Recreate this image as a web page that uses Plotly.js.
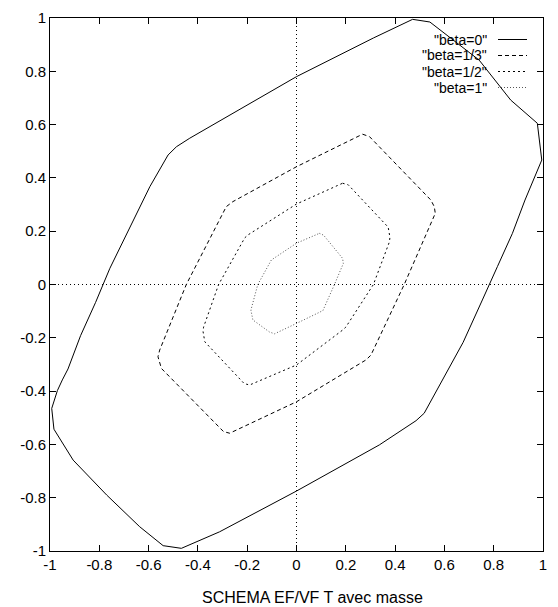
<!DOCTYPE html>
<html>
<head>
<meta charset="utf-8">
<script src="https://cdn.plot.ly/plotly-3.0.1.min.js"></script>
<style>html,body{margin:0;padding:0;background:#fff;}</style>
</head>
<body>
<div id="chart" style="width:558px;height:607px;"></div>
<script>
// ---- data ----
var seriesNames = ['"beta=0"', '"beta=1/3"', '"beta=1/2"', '"beta=1"'];

var beta0X = [0.471, 0.541, 0.741, 0.869, 0.977, 0.984, 0.995, 0.927, 0.876, 0.815, 0.781, 0.754, 0.676, 0.592, 0.518, 0.485, 0.336, 0.0, -0.312, -0.467, -0.541, -0.636, -0.770, -0.906, -0.984, -0.993, -0.970, -0.950, -0.927, -0.876, -0.815, -0.757, -0.676, -0.595, -0.521, -0.487, -0.433, 0.0, 0.312, 0.471];
var beta0Y = [0.995, 0.985, 0.842, 0.692, 0.605, 0.543, 0.467, 0.317, 0.192, 0.067, 0.0, -0.058, -0.217, -0.358, -0.483, -0.511, -0.602, -0.775, -0.928, -0.990, -0.980, -0.909, -0.790, -0.659, -0.543, -0.465, -0.398, -0.358, -0.317, -0.192, -0.067, 0.061, 0.217, 0.367, 0.486, 0.517, 0.549, 0.780, 0.925, 0.995];

var beta13X = [0.268, 0.296, 0.545, 0.559, 0.563, 0.437, 0.302, 0.282, 0.0, -0.271, -0.296, -0.548, -0.562, -0.555, -0.447, -0.285, -0.258, 0.0, 0.268];
var beta13Y = [0.564, 0.555, 0.317, 0.292, 0.267, 0.0, -0.265, -0.283, -0.440, -0.558, -0.552, -0.315, -0.271, -0.246, 0.0, 0.292, 0.311, 0.442, 0.564];

var beta12X = [0.187, 0.210, 0.372, 0.379, 0.377, 0.312, 0.200, 0.187, 0.0, -0.190, -0.212, -0.372, -0.379, -0.377, -0.316, -0.210, -0.197, 0.0, 0.187];
var beta12Y = [0.380, 0.374, 0.215, 0.177, 0.160, 0.0, -0.160, -0.171, -0.302, -0.377, -0.372, -0.215, -0.177, -0.160, 0.0, 0.175, 0.186, 0.302, 0.380];

var beta1X = [0.093, 0.110, 0.187, 0.190, 0.154, 0.107, 0.0, -0.089, -0.110, -0.177, -0.185, -0.157, -0.102, 0.0, 0.093];
var beta1Y = [0.192, 0.185, 0.098, 0.079, 0.0, -0.098, -0.146, -0.185, -0.178, -0.133, -0.096, 0.0, 0.092, 0.155, 0.192];

var tickVals = [-1, -0.8, -0.6, -0.4, -0.2, 0, 0.2, 0.4, 0.6, 0.8, 1];
var tickText = ['-1', '-0.8', '-0.6', '-0.4', '-0.2', '0', '0.2', '0.4', '0.6', '0.8', '1'];
var xLabel = 'SCHEMA EF/VF T avec masse';

// ---- styles ----
var FONT = 'Liberation Sans, Arial, Helvetica, sans-serif';
var dashes = ['solid', '4px,3px', '2px,3px', '1px,2px'];
var colors = ['#000', '#000', '#000', '#555'];

var xs = [beta0X, beta13X, beta12X, beta1X];
var ys = [beta0Y, beta13Y, beta12Y, beta1Y];

var traces = [];
for (var i = 0; i < xs.length; i++) {
  traces.push({
    x: xs[i], y: ys[i], type: 'scatter', mode: 'lines',
    name: seriesNames[i], showlegend: false, hoverinfo: 'skip',
    line: {color: colors[i], width: 1, dash: dashes[i]}
  });
}

var shapes = [
  {type: 'line', xref: 'x', yref: 'paper', x0: 0, x1: 0, y0: 0, y1: 1,
   line: {color: '#000', width: 1, dash: '1px,3px'}, layer: 'below'},
  {type: 'line', xref: 'paper', yref: 'y', x0: 0, x1: 1, y0: 0, y1: 0,
   line: {color: '#000', width: 1, dash: '1px,3px'}, layer: 'below'}
];
var annotations = [];
var legendTop = 39.5, legendStep = 16;
var plotTop = 18, plotH = 533, plotL = 50, plotW = 493;
for (var j = 0; j < seriesNames.length; j++) {
  var yp = 1 - (legendTop + j * legendStep - plotTop) / plotH;
  annotations.push({
    xref: 'paper', yref: 'paper', x: (488 - plotL) / plotW, y: yp,
    xanchor: 'right', yanchor: 'middle', showarrow: false, height: 12, borderpad: 0,
    text: seriesNames[j], font: {family: FONT, size: 14, color: '#000'}
  });
  shapes.push({
    type: 'line', xref: 'paper', yref: 'paper',
    x0: (498 - plotL) / plotW, x1: (527 - plotL) / plotW, y0: yp, y1: yp,
    line: {color: colors[j], width: 1, dash: dashes[j]}
  });
}
// x-axis label
annotations.push({
  xref: 'paper', yref: 'paper', x: (312 - plotL) / plotW, y: -(597 - 551) / plotH,
  xanchor: 'center', yanchor: 'middle', showarrow: false,
  text: xLabel, font: {family: FONT, size: 16, color: '#000'}
});

var axisCommon = {
  range: [-1, 1], tickmode: 'array', tickvals: tickVals, ticktext: tickText,
  ticks: 'inside', ticklen: 6, tickcolor: '#000', tickwidth: 1,
  showline: true, linecolor: '#000', linewidth: 1, mirror: 'allticks',
  showgrid: false, zeroline: false, automargin: false,
  tickfont: {family: FONT, size: 15, color: '#000'}
};

var layout = {
  width: 558, height: 607,
  margin: {l: 50, r: 15, t: 18, b: 56},
  paper_bgcolor: '#fff', plot_bgcolor: '#fff',
  showlegend: false,
  xaxis: Object.assign({}, axisCommon),
  yaxis: Object.assign({}, axisCommon),
  shapes: shapes,
  annotations: annotations
};

Plotly.newPlot('chart', traces, layout, {displayModeBar: false, staticPlot: true});
</script>
</body>
</html>
